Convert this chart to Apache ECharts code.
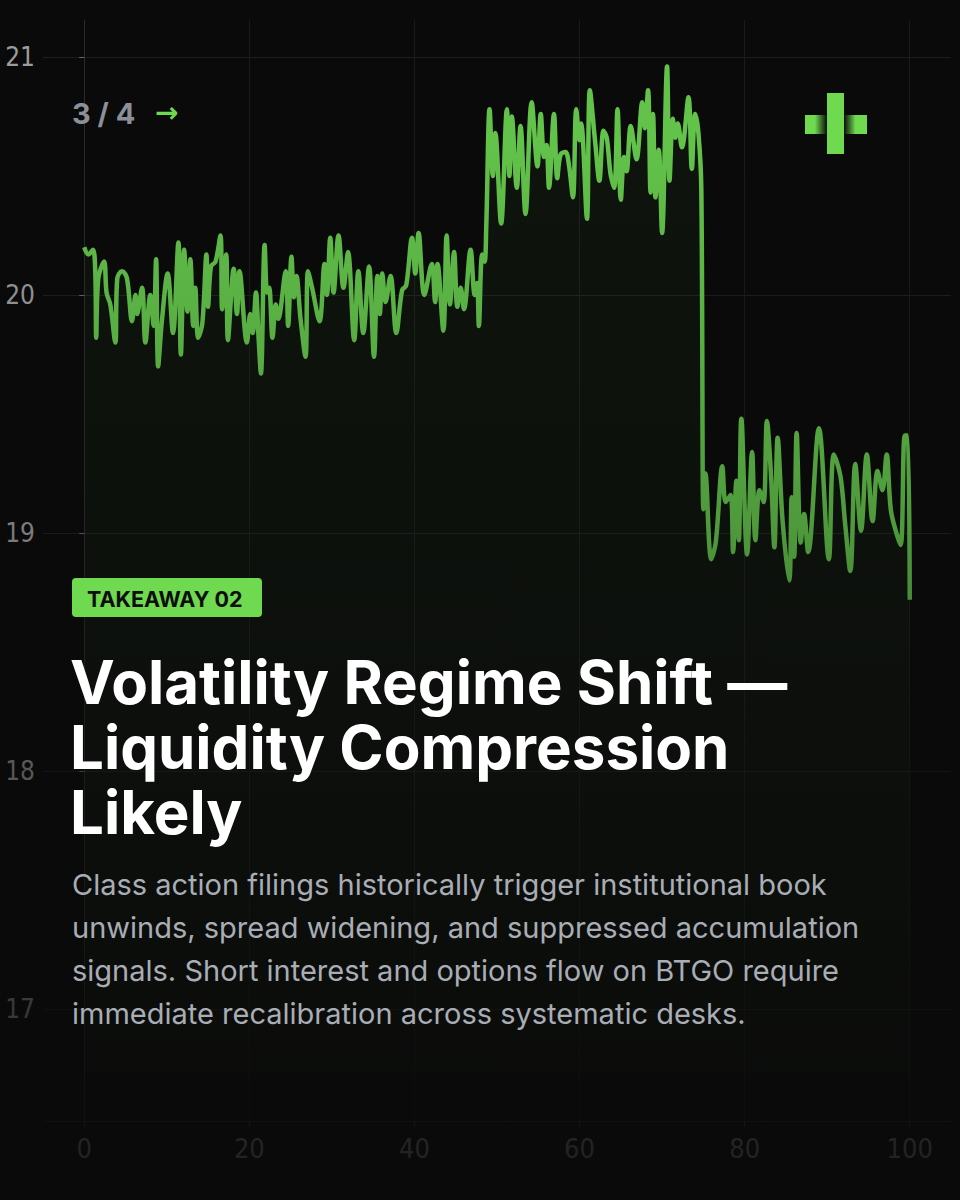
<!DOCTYPE html>
<html>
<head>
<meta charset="utf-8">
<script src="https://cdn.jsdelivr.net/npm/echarts@6/dist/echarts.min.js"></script>
<style>
html,body{margin:0;padding:0;background:#0a0a0a;}
#chart{width:960px;height:1200px;}
</style>
</head>
<body>
<div id="chart"></div>
<script>
// ---- data ----
const xs = [0,0.5,1.05,1.33,1.45,1.7,2.4,2.7,3.15,3.76,4.0,4.57,5.17,5.78,6.2,6.4,7.0,7.4,8.0,8.4,8.7,8.95,9.4,10.1,10.75,11.4,11.7,12.1,12.5,12.85,13.2,13.45,13.8,14.3,14.8,15.0,15.35,15.9,16.5,16.7,17.2,17.4,18.1,18.5,18.8,19.7,20.1,20.4,20.8,21.1,21.4,21.85,22.15,22.4,22.8,23.2,23.5,24.4,24.7,25.1,25.4,25.7,26.2,26.8,27.1,27.6,28.5,29.1,29.4,29.8,30.2,30.8,31.4,31.95,32.7,33.2,33.8,34.5,35.1,35.5,35.8,36.1,36.5,37.1,37.8,38.5,39.0,39.7,40.1,40.5,41.2,42.1,42.5,42.8,43.5,43.9,44.3,44.8,45.2,45.6,46.0,46.8,47.3,47.6,47.8,48.2,48.5,48.7,49.1,49.5,49.8,50.5,51.2,51.5,51.8,52.4,52.85,53.45,54.2,54.9,55.3,55.7,56.0,56.3,56.9,57.3,57.7,58.3,58.7,59.2,59.6,60.0,60.2,60.9,61.25,61.9,62.4,62.9,63.3,63.75,64.2,64.6,65.0,65.4,65.7,66.2,66.9,67.6,67.9,68.3,68.6,68.9,69.2,69.6,70.0,70.6,70.9,71.3,71.6,71.9,72.4,73.2,73.6,74.0,74.4,74.75,75.0,75.25,75.95,76.5,77.3,77.7,78.3,78.6,79.0,79.3,79.6,80.3,80.9,81.3,81.8,82.3,82.7,83.2,83.6,84.0,84.6,85.4,85.7,86.0,86.3,86.8,87.2,87.7,89.0,90.2,90.8,91.6,92.2,92.8,93.4,94.1,94.8,95.5,96.1,96.7,97.2,97.7,98.3,98.9,99.4,99.75,100];
const ys = [20.20,20.17,20.19,20.10,19.82,20.07,20.14,20.01,19.96,19.80,20.07,20.10,20.07,19.89,20.00,19.92,20.03,19.80,20.00,19.87,20.15,19.70,19.89,20.09,19.84,20.22,19.75,20.19,19.93,20.15,19.87,20.03,19.82,19.88,20.17,19.95,20.12,20.14,20.25,19.94,20.17,19.81,20.11,19.92,20.10,19.80,19.92,19.84,20.01,19.83,19.67,20.21,20.01,20.03,19.82,19.96,19.90,20.10,19.87,20.16,19.99,20.08,19.90,19.74,20.10,20.03,19.89,20.13,20.00,20.24,20.01,20.25,20.03,20.18,19.81,20.10,19.84,20.12,19.74,20.08,19.92,20.09,19.97,20.08,19.84,20.02,20.04,20.24,20.09,20.26,20.00,20.13,19.97,20.13,19.85,20.25,19.96,20.18,19.95,20.03,19.94,20.19,20.00,20.05,19.87,20.17,20.14,20.29,20.78,20.50,20.68,20.30,20.78,20.50,20.75,20.45,20.71,20.34,20.81,20.54,20.76,20.58,20.63,20.45,20.76,20.49,20.59,20.60,20.55,20.41,20.78,20.65,20.72,20.32,20.86,20.64,20.48,20.69,20.66,20.51,20.45,20.78,20.40,20.58,20.52,20.71,20.57,20.81,20.70,20.86,20.43,20.76,20.41,20.61,20.26,20.96,20.48,20.74,20.66,20.72,20.62,20.83,20.53,20.76,20.68,20.45,19.10,19.25,18.89,18.96,19.28,19.13,19.16,18.92,19.22,18.97,19.48,18.91,19.34,18.97,19.18,19.13,19.47,19.24,18.94,19.40,19.05,18.80,19.15,18.90,19.42,18.96,19.08,18.92,19.44,18.89,19.33,19.24,19.03,18.84,19.29,19.01,19.33,19.05,19.26,19.18,19.33,19.10,19.01,18.95,19.41,19.41,18.72];
const xTicks = [0,20,40,60,80,100];
const yTicks = [17,18,19,20,21];
const pageLabel = '3 / 4';
const badgeText = 'TAKEAWAY 02';
const titleLines = ['Volatility Regime Shift —','Liquidity Compression','Likely'];
const bodyLines = [
  'Class action filings historically trigger institutional book',
  'unwinds, spread widening, and suppressed accumulation',
  'signals. Short interest and options flow on BTGO require',
  'immediate recalibration across systematic desks.'
];

const points = xs.map((x,i)=>[x, ys[i]]);
const chart = echarts.init(document.getElementById('chart'), null, {renderer:'svg', width:960, height:1200});

const GREEN = '#6fd94f';
const graphics = [];
// fade overlay
graphics.push({
  type:'rect', z:50, silent:true,
  shape:{x:0,y:0,width:960,height:1200},
  style:{fill:{type:'linear',x:0,y:0,x2:0,y2:1,colorStops:[
    {offset:0,color:'rgba(10,10,10,0)'},
    {offset:0.12,color:'rgba(10,10,10,0)'},
    {offset:0.44,color:'rgba(10,10,10,0.22)'},
    {offset:0.64,color:'rgba(10,10,10,0.47)'},
    {offset:0.84,color:'rgba(10,10,10,0.68)'},
    {offset:0.96,color:'rgba(10,10,10,0.83)'},
    {offset:1,color:'rgba(10,10,10,0.86)'}
  ]}}
});
// page indicator
graphics.push({type:'text', z:100, style:{x:72,y:113,text:pageLabel,fill:'#8b8f98',font:'700 29px Inter',verticalAlign:'middle'}});
graphics.push({type:'text', z:100, style:{x:155,y:112,text:'→',fill:GREEN,font:'700 28px "DejaVu Sans"',verticalAlign:'middle'}});
// logo
graphics.push({type:'rect', z:100, shape:{x:805,y:115,width:22,height:19},
  style:{fill:{type:'linear',x:0,y:0,x2:1,y2:0,colorStops:[{offset:0,color:GREEN},{offset:0.45,color:GREEN},{offset:1,color:'#0a0a0a'}]}}});
graphics.push({type:'rect', z:100, shape:{x:844,y:115,width:23,height:19},
  style:{fill:{type:'linear',x:0,y:0,x2:1,y2:0,colorStops:[{offset:0,color:'#0a0a0a'},{offset:0.5,color:GREEN},{offset:1,color:GREEN}]}}});
graphics.push({type:'rect', z:101, shape:{x:827,y:93,width:17,height:61}, style:{fill:GREEN}});
// badge
graphics.push({type:'rect', z:100, shape:{x:72,y:578,width:190,height:39,r:4}, style:{fill:GREEN}});
graphics.push({type:'text', z:101, style:{x:87,y:599,text:badgeText,fill:'#0d0d0d',font:'700 21.5px Inter',verticalAlign:'middle'}});
// title
titleLines.forEach((t,i)=>{
  graphics.push({type:'text', z:100, style:{x:70,y:682+i*65,text:t,fill:'#ffffff',font:'700 60px Inter',verticalAlign:'middle'}});
});
// body
bodyLines.forEach((t,i)=>{
  graphics.push({type:'text', z:100, style:{x:72,y:884+i*43,text:t,fill:'#a9adb5',font:'400 29px Inter',verticalAlign:'middle'}});
});

chart.setOption({
  backgroundColor:'#0a0a0a',
  animation:false,
  grid:{left:43,right:9,top:20,bottom:79,containLabel:false},
  xAxis:{
    type:'value', min:-5, max:105,
    axisLine:{show:true,lineStyle:{color:'#2a2a2a',width:1}},
    axisTick:{show:true,customValues:xTicks,length:6,lineStyle:{color:'#3a3a3a'}},
    axisLabel:{customValues:xTicks,color:'#9a9a9a',fontFamily:'DejaVu Sans Condensed',fontSize:27,margin:14},
    splitLine:{show:true,lineStyle:{color:'#1b1b1b',width:1}}
  },
  yAxis:{
    type:'value', min:16.53, max:21.155,
    axisLine:{show:true,lineStyle:{color:'#2a2a2a',width:1}},
    axisTick:{show:true,customValues:yTicks,length:5,lineStyle:{color:'#6a6a6a'}},
    axisLabel:{customValues:yTicks,color:'#9c9c9c',fontFamily:'DejaVu Sans Condensed',fontSize:26,margin:8},
    splitLine:{show:true,lineStyle:{color:'#1e1e1e',width:1}}
  },
  series:[{
    type:'line', data:points, showSymbol:false, smooth:0.35,
    lineStyle:{color:'#62c24a',width:4.5},
    areaStyle:{color:'rgba(95,191,71,0.08)',origin:16.735},
    z:2
  }],
  graphic:graphics
});
</script>
</body>
</html>
